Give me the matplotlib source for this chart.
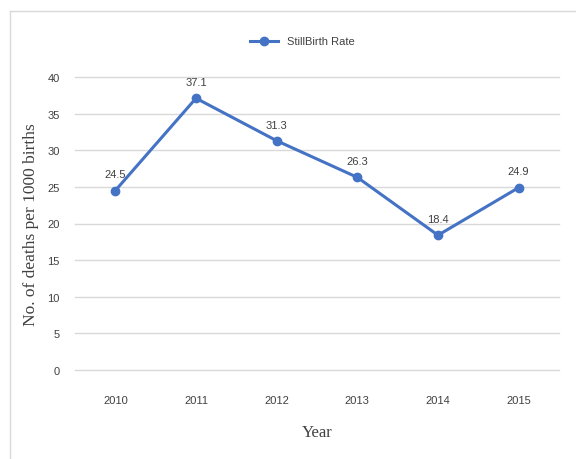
import matplotlib.pyplot as plt
from matplotlib.lines import Line2D

years = ['2010', '2011', '2012', '2013', '2014', '2015']
rates = [24.5, 37.1, 31.3, 26.3, 18.4, 24.9]
yticks = [0, 5, 10, 15, 20, 25, 30, 35, 40]

blue = '#4472C4'
grid = '#D9D9D9'
text_col = '#404040'

fig = plt.figure(figsize=(5.76, 4.6), dpi=100)
ax = fig.add_axes([75 / 576, 1 - 371 / 460, 484 / 576, 293 / 460])

x = list(range(len(years)))
ax.plot(x, rates, color=blue, linewidth=2.2, marker='o', markersize=6,
        label='StillBirth Rate', zorder=3)
for xi, v in zip(x, rates):
    ax.annotate(f'{v}', (xi, v), xytext=(0, 8), textcoords='offset points',
                ha='center', va='bottom', fontsize=8, color=text_col,
                family='Liberation Sans')

ax.set_xlim(-0.5, len(years) - 0.5)
ax.set_ylim(0, 40)
ax.set_yticks(yticks)
ax.set_xticks(x)
ax.set_xticklabels(years)
ax.yaxis.grid(True, color=grid, linewidth=1)
for gl in ax.get_ygridlines():
    gl.set_clip_on(False)
ax.set_axisbelow(True)
for s in ax.spines.values():
    s.set_visible(False)
ax.tick_params(length=0, labelsize=8, labelcolor=text_col)
ax.tick_params(axis='x', pad=18)
ax.tick_params(axis='y', pad=11)
for lab in ax.get_xticklabels() + ax.get_yticklabels():
    lab.set_family('Liberation Sans')

ax.set_xlabel('Year', family='Liberation Serif', fontsize=12, color=text_col,
              labelpad=14)
ax.set_ylabel('No. of deaths per 1000 births', family='Liberation Serif',
              fontsize=12.5, color=text_col, labelpad=6)

ax.legend(loc='lower center', bbox_to_anchor=(0.47, 1.07), frameon=False,
          prop={'family': 'Liberation Sans', 'size': 8}, labelcolor=text_col,
          handlelength=2.5)

# chart frame (top and left edges)
fig.add_artist(Line2D([10 / 576, 1], [1 - 12 / 460, 1 - 12 / 460],
                      color=grid, linewidth=1, transform=fig.transFigure))
fig.add_artist(Line2D([10 / 576, 10 / 576], [0, 1 - 12 / 460],
                      color=grid, linewidth=1, transform=fig.transFigure))

fig.savefig('out.png', dpi=100)
